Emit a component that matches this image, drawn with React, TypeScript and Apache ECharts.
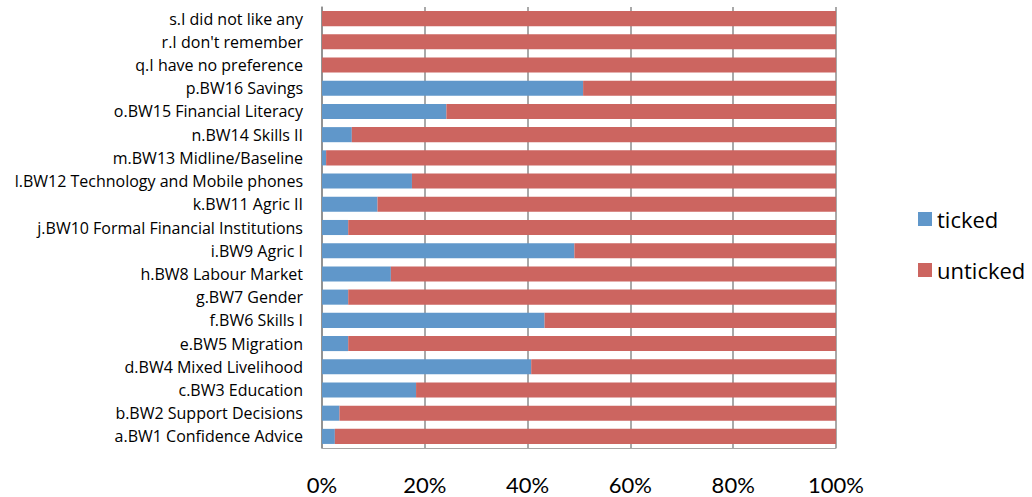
import React, { useEffect, useRef } from "react";
import * as echarts from "echarts";

// Categories listed bottom-to-top (a at the bottom)
const categories = [
  "a.BW1 Confidence Advice",
  "b.BW2 Support Decisions",
  "c.BW3 Education",
  "d.BW4 Mixed Livelihood",
  "e.BW5 Migration",
  "f.BW6 Skills I",
  "g.BW7 Gender",
  "h.BW8 Labour Market",
  "i.BW9 Agric I",
  "j.BW10 Formal Financial Institutions",
  "k.BW11 Agric II",
  "l.BW12 Technology and Mobile phones",
  "m.BW13 Midline/Baseline",
  "n.BW14 Skills II",
  "o.BW15 Financial Literacy",
  "p.BW16 Savings",
  "q.I have no preference",
  "r.I don't remember",
  "s.I did not like any",
];

// Share of respondents (%) who ticked each item
const ticked = [2.5, 3.4, 18.3, 40.7, 5.1, 43.3, 5.1, 13.4, 49.1, 5.1, 10.8, 17.5, 0.8, 5.8, 24.2, 50.8, 0, 0, 0];
// Remaining share who did not tick it
const unticked = [97.5, 96.6, 81.7, 59.3, 94.9, 56.7, 94.9, 86.6, 50.9, 94.9, 89.2, 82.5, 99.2, 94.2, 75.8, 49.2, 100, 100, 100];

const tickLabels = ["0%", "20%", "40%", "60%", "80%", "100%"];

const FONT = "Lato, 'Open Sans', sans-serif";
const LABEL_FONT = "'Open Sans', Lato, sans-serif";

export default function App() {
  const ref = useRef<HTMLDivElement>(null);

  useEffect(() => {
    if (!ref.current) return;
    const chart = echarts.init(ref.current, undefined, { renderer: "svg" });
    chart.setOption({
      animation: false,
      backgroundColor: "#ffffff",
      textStyle: { fontFamily: FONT },
      grid: { left: 322, right: 196, top: 7, bottom: 49, containLabel: false },
      legend: {
        orient: "vertical",
        left: 913,
        top: 203,
        itemWidth: 14,
        itemHeight: 14,
        itemGap: 29,
        icon: "rect",
        textStyle: { fontSize: 22, color: "#000", fontFamily: LABEL_FONT },
        data: ["ticked", "unticked"],
      },
      xAxis: {
        type: "value",
        min: 0,
        max: 100,
        interval: 20,
        axisLine: { show: true, lineStyle: { color: "#a6a6a6", width: 1 } },
        axisTick: { show: false },
        splitLine: { show: true, lineStyle: { color: "#8c8c8c", width: 1.5 } },
        axisLabel: {
          margin: 25,
          fontSize: 22,
          color: "#000",
          fontFamily: FONT,
          formatter: (v: number) => tickLabels[Math.round(v / 20)] ?? "",
        },
      },
      yAxis: {
        type: "category",
        data: categories,
        axisLine: { show: true, lineStyle: { color: "#8c8c8c", width: 1.5 } },
        axisTick: { show: false },
        axisLabel: { margin: 19, fontSize: 16, color: "#000", fontFamily: LABEL_FONT },
      },
      series: [
        {
          name: "ticked",
          type: "bar",
          stack: "total",
          barCategoryGap: "35%",
          data: ticked,
          itemStyle: { color: "#6097CA" },
        },
        {
          name: "unticked",
          type: "bar",
          stack: "total",
          barCategoryGap: "35%",
          data: unticked,
          itemStyle: { color: "#CC6560" },
        },
      ],
    });
    return () => chart.dispose();
  }, []);

  return (
    <div
      ref={ref}
      style={{ position: "fixed", left: 0, top: 0, width: 1032, height: 497 }}
    />
  );
}
